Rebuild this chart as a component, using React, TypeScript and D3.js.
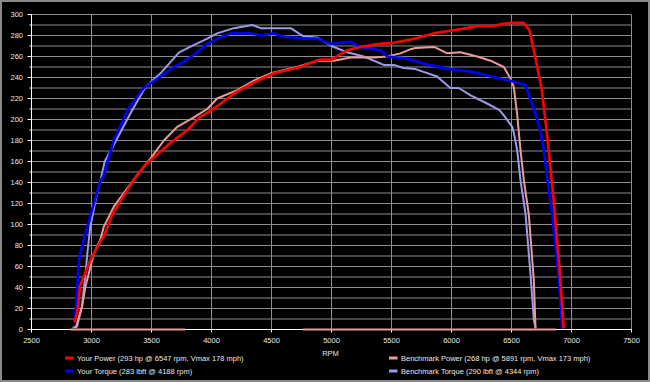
import React from "react";
import * as d3 from "d3";

const W = 650;
const H = 382;

const xTicks = [2500, 3000, 3500, 4000, 4500, 5000, 5500, 6000, 6500, 7000, 7500];
const yTicks = [0, 20, 40, 60, 80, 100, 120, 140, 160, 180, 200, 220, 240, 260, 280, 300];

// [rpm, value]
const yourPower: [number, number][] = [
  [2860, 8], [2880, 15], [2895, 30], [2905, 42], [2925, 47], [2975, 62], [3000, 68], [3075, 84],
  [3100, 88], [3175, 110], [3250, 124], [3350, 142], [3450, 157], [3500, 162], [3650, 177],
  [3800, 190], [3900, 202], [3975, 207], [4075, 215], [4190, 225], [4350, 235], [4520, 244],
  [4740, 250], [4900, 257], [5000, 257], [5130, 266], [5240, 269], [5400, 272], [5520, 273],
  [5690, 277], [5850, 282], [5960, 284], [6130, 287], [6220, 289], [6350, 289], [6420, 291],
  [6500, 292], [6600, 292], [6650, 285], [6700, 258], [6750, 230], [6800, 182], [6850, 125],
  [6900, 58], [6935, 2],
];

const yourTorque: [number, number][] = [
  [2865, 12], [2880, 40], [2895, 66], [2920, 79], [3005, 114], [3075, 142], [3100, 146],
  [3185, 180], [3300, 209], [3435, 230], [3575, 241], [3690, 250], [3770, 255], [3880, 264],
  [3965, 272], [4050, 277], [4160, 282], [4330, 282], [4410, 280], [4520, 282], [4600, 279],
  [4770, 277], [4880, 277], [4990, 272], [5160, 274], [5240, 269], [5410, 266], [5465, 260],
  [5630, 258], [5770, 253], [5990, 248], [6190, 245], [6325, 241], [6490, 237], [6615, 233],
  [6690, 209], [6740, 190], [6770, 171], [6800, 142], [6840, 110], [6895, 47], [6922, 2],
];

const benchPower: [number, number][] = [
  [2870, 2], [2880, 6], [2922, 22], [2950, 41], [2992, 60], [3019, 72], [3075, 86], [3103, 98],
  [3186, 117], [3269, 130], [3380, 147], [3492, 163], [3603, 180], [3714, 193], [3853, 202],
  [3964, 210], [4047, 220], [4214, 228], [4353, 237], [4492, 244], [4714, 250], [4881, 256],
  [5019, 256], [5158, 259], [5353, 259], [5464, 260], [5575, 263], [5660, 267], [5700, 268],
  [5860, 269], [5964, 263], [6075, 264], [6214, 260], [6325, 256], [6436, 250], [6492, 239],
  [6519, 231], [6547, 205], [6575, 171], [6603, 142], [6644, 110], [6686, 47], [6700, 2],
];

const benchTorque: [number, number][] = [
  [2850, 2], [2880, 3], [2920, 22], [2950, 53], [2965, 72], [2990, 98], [3047, 130], [3075, 142],
  [3110, 160], [3186, 176], [3325, 206], [3450, 231], [3575, 244], [3730, 264], [3855, 271],
  [3965, 277], [4047, 282], [4186, 287], [4340, 290], [4410, 287], [4660, 287], [4770, 279],
  [4880, 278], [5020, 269], [5130, 264], [5270, 260], [5435, 252], [5520, 252], [5600, 249],
  [5700, 248], [5880, 241], [5990, 230], [6060, 230], [6160, 223], [6300, 215], [6400, 209],
  [6436, 204], [6506, 193], [6520, 187], [6547, 171], [6575, 142], [6617, 110], [6658, 53],
  [6686, 9], [6700, 2],
];

// flat zero-level segments of the benchmark power trace
const benchZeroSegments: [number, number][][] = [
  [[2825, 0], [3780, 0]],
  [[4760, 0], [6870, 0]],
];

const legendItems = [
  { label: "Your Power (293 hp @ 6547 rpm, Vmax 178 mph)", color: "#ff0000", col: 0, row: 0 },
  { label: "Your Torque (283 lbft @ 4188 rpm)", color: "#0000ff", col: 0, row: 1 },
  { label: "Benchmark Power (268 hp @ 5891 rpm, Vmax 173 mph)", color: "#e89c9c", col: 1, row: 0 },
  { label: "Benchmark Torque (290 lbft @ 4344 rpm)", color: "#9a9ae8", col: 1, row: 1 },
];

export default function App() {
  const x = d3.scaleLinear().domain([2500, 7500]).range([31.5, 631.5]);
  const y = d3.scaleLinear().domain([0, 300]).range([329.5, 14.5]);
  const line = d3
    .line<[number, number]>()
    .x((d) => x(d[0]))
    .y((d) => y(d[1]));

  const minorY = d3.range(0, 301, 10);
  const font = "Arial, 'Liberation Sans', sans-serif";
  const textColor = "#e8e8e8";
  const gridColor = "#8c8c8c";

  const series = [
    { data: benchTorque, color: "#9a9ae8", w: 2 },
    { data: benchPower, color: "#e89c9c", w: 2 },
    { data: yourTorque, color: "#0000ff", w: 2.6 },
    { data: yourPower, color: "#ff0000", w: 2.6 },
  ];

  return (
    <svg
      width={W}
      height={H}
      style={{ position: "absolute", left: 0, top: 0, display: "block" }}
      fontFamily={font}
    >
      <rect x={0} y={0} width={W} height={H} fill="#000" />
      <rect x={1} y={1} width={W - 2} height={H - 2} fill="none" stroke="#8a8a8a" strokeWidth={2} />

      {/* horizontal grid */}
      {minorY.map((v) => (
        <line key={"hg" + v} x1={x(2500)} x2={x(7500)} y1={y(v)} y2={y(v)} stroke={gridColor} strokeWidth={1} />
      ))}
      {/* vertical grid */}
      {xTicks.map((v) => (
        <line key={"vg" + v} x1={x(v)} x2={x(v)} y1={y(300)} y2={y(0)} stroke={gridColor} strokeWidth={1} />
      ))}

      {/* axes */}
      <line x1={x(2500)} x2={x(2500)} y1={y(300)} y2={y(0)} stroke="#ffffff" strokeWidth={1} />
      <line x1={x(2500)} x2={x(7500)} y1={y(0)} y2={y(0)} stroke="#ffffff" strokeWidth={1} />
      {minorY.map((v) => (
        <line
          key={"yt" + v}
          x1={x(2500) - (v % 20 === 0 ? 4 : 2)}
          x2={x(2500)}
          y1={y(v)}
          y2={y(v)}
          stroke="#ffffff"
          strokeWidth={1}
        />
      ))}
      {xTicks.map((v) => (
        <line key={"xt" + v} x1={x(v)} x2={x(v)} y1={y(0)} y2={y(0) + 3} stroke="#ffffff" strokeWidth={1} />
      ))}

      {/* tick labels */}
      {yTicks.map((v) => (
        <text key={"yl" + v} x={23} y={y(v)} dy="0.35em" textAnchor="end" fontSize={7.5} fill={textColor}>
          {v}
        </text>
      ))}
      {xTicks.map((v) => (
        <text key={"xl" + v} x={x(v)} y={343} textAnchor="middle" fontSize={7.5} fill={textColor}>
          {v}
        </text>
      ))}
      <text x={(x(2500) + x(7500)) / 2 - 1} y={355.5} textAnchor="middle" fontSize={7.5} fill={textColor}>
        RPM
      </text>

      {/* zero segments */}
      {benchZeroSegments.map((seg, i) => (
        <path key={"z" + i} d={line(seg) || ""} fill="none" stroke="#e89c9c" strokeWidth={2} />
      ))}

      {/* series */}
      {series.map((s, i) => (
        <path
          key={"s" + i}
          d={line(s.data) || ""}
          fill="none"
          stroke={s.color}
          strokeWidth={s.w}
          strokeLinejoin="round"
          strokeLinecap="round"
        />
      ))}

      {/* legend */}
      {legendItems.map((it) => {
        const sx = it.col === 0 ? 65 : 389;
        const sy = it.row === 0 ? 358 : 371;
        return (
          <g key={it.label}>
            <line x1={sx} x2={sx + 8.5} y1={sy} y2={sy} stroke={it.color} strokeWidth={3} />
            <text x={sx + 12} y={sy} dy="0.35em" fontSize={7.5} fill={textColor}>
              {it.label}
            </text>
          </g>
        );
      })}
    </svg>
  );
}
